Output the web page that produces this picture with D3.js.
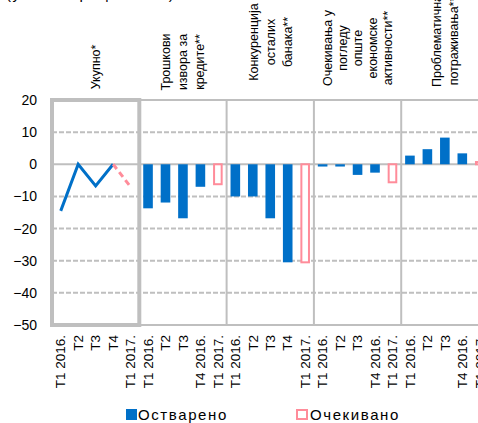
<!DOCTYPE html>
<html><head><meta charset="utf-8">
<script src="https://cdn.jsdelivr.net/npm/d3@7"></script>
<style>
html,body{margin:0;padding:0;background:#fff;}
svg{display:block;font-family:"Liberation Sans",Arial,sans-serif;}
</style></head>
<body>
<script>
// ---- data ----
const groupNames = [
  ["Укупно*"],
  ["Трошкови", "извора за", "кредите**"],
  ["Конкуренција", "осталих", "банака**"],
  ["Очекивања у", "погледу", "опште", "економске", "активности**"],
  ["Проблематична", "потраживања**"]
];
const periodLabels = [
  ["T1 2016.", "T2", "T3", "T4", "T1 2017."],
  ["T1 2016.", "T2", "T3", "T4 2016.", "T1 2017."],
  ["T1 2016.", "T2", "T3", "T4", "T1 2017."],
  ["T1 2016.", "T2", "T3", "T4 2016.", "T1 2017."],
  ["T1 2016.", "T2", "T3", "T4 2016.", "T1 2017."]
];
// Укупно* (line)
const totalRealized = [-14.5, 0, -6.7, 0];
const totalExpected = [0, -7];   // from T4 2016. to T1 2017.
// Bars for the other factors (T1..T4 2016. realized, T1 2017. expected)
const realized = [
  [-13.7, -11.9, -16.8, -7.0],
  [-10.0, -10.0, -16.8, -30.5],
  [-0.7, -0.7, -3.3, -2.6],
  [2.7, 4.7, 8.3, 3.4]
];
const expected = [-6.2, -30.5, -5.6, 0.7];
const yTicks = [20, 10, 0, -10, -20, -30, -40, -50];
const legendLabels = ["Остварено", "Очекивано"];

// ---- layout ----
const W = 478, H = 423;
const x0 = 52, groupW = 87.3, nG = groupNames.length;
const x1 = x0 + groupW * nG;
const plotTop = 100, plotBottom = 325;
const blue = "#0070C8", pink = "#FF8C9A", grid = "#BFBFBF";

const svg = d3.select("body").append("svg").attr("width", W).attr("height", H);

const slots = d3.range(nG * 5);
const x = d3.scaleBand().domain(slots).range([x0, x1]).paddingInner(0.45).paddingOuter(0.225);
const xc = i => x(i) + x.bandwidth() / 2;
const y = d3.scaleLinear().domain([-50, 20]).range([plotBottom, plotTop]);

// title (cut off at the top)
svg.append("text").attr("x", 6).attr("y", -1).attr("font-size", 15).attr("fill", "#000")
  .attr("letter-spacing", 1.5)
  .text("(у нето процентима)");

// grid lines
svg.append("g").selectAll("line").data(yTicks).join("line")
  .attr("x1", x0).attr("x2", x1)
  .attr("y1", d => y(d)).attr("y2", d => y(d))
  .attr("stroke", grid).attr("stroke-width", 2)
  .attr("stroke-dasharray", d => (d === 0 || d === 20 || d === -50) ? null : "5,2");

// group separators
svg.append("g").selectAll("line").data(d3.range(1, nG + 1)).join("line")
  .attr("x1", g => x0 + g * groupW).attr("x2", g => x0 + g * groupW)
  .attr("y1", plotTop).attr("y2", plotBottom)
  .attr("stroke", grid).attr("stroke-width", 2);

// y axis labels
const yAxis = svg.append("g").attr("transform", `translate(41,0)`)
  .call(d3.axisLeft(y).tickValues(yTicks).tickSize(0).tickPadding(4).tickFormat(d3.format("d")));
yAxis.select(".domain").remove();
yAxis.selectAll("text").attr("font-size", 14).attr("fill", "#000")
  .attr("font-family", "Liberation Sans, Arial, sans-serif");

// x axis labels (rotated)
const flatLabels = periodLabels.flat();
const xAxis = svg.append("g").attr("transform", `translate(0,${plotBottom})`)
  .call(d3.axisBottom(x).tickSize(0).tickFormat(i => flatLabels[i]));
xAxis.select(".domain").remove();
xAxis.selectAll("text")
  .attr("transform", "rotate(-90)")
  .attr("x", -10).attr("y", 0).attr("dy", "0.35em")
  .attr("text-anchor", "end")
  .attr("font-size", 13.5).attr("fill", "#000")
  .attr("font-family", "Liberation Sans, Arial, sans-serif");

// bars: realized
realized.forEach((vals, gi) => {
  const g = gi + 1;
  svg.append("g").selectAll("rect").data(vals).join("rect")
    .attr("x", (d, k) => x(g * 5 + k))
    .attr("width", x.bandwidth())
    .attr("y", d => y(Math.max(0, d)))
    .attr("height", d => Math.abs(y(d) - y(0)))
    .attr("fill", blue);
});
// bars: expected
svg.append("g").selectAll("rect").data(expected).join("rect")
  .attr("x", (d, gi) => x((gi + 1) * 5 + 4) + 1)
  .attr("width", x.bandwidth() - 2)
  .attr("y", d => y(Math.max(0, d)))
  .attr("height", d => Math.abs(y(d) - y(0)))
  .attr("fill", "#fff").attr("stroke", pink).attr("stroke-width", 2);

// group 1 box
svg.append("rect").attr("x", x0).attr("y", plotTop).attr("width", groupW).attr("height", plotBottom - plotTop)
  .attr("fill", "none").attr("stroke", grid).attr("stroke-width", 4);

// total line
const line = d3.line().x(d => xc(d[0])).y(d => y(d[1]));
svg.append("path").datum(totalRealized.map((v, i) => [i, v]))
  .attr("d", line).attr("fill", "none").attr("stroke", blue).attr("stroke-width", 3);
svg.append("path").datum(totalExpected.map((v, i) => [3 + i, v]))
  .attr("d", line).attr("fill", "none").attr("stroke", pink).attr("stroke-width", 3)
  .attr("stroke-dasharray", "6,4");

// group header labels (rotated, multi-line)
const headerCenters = [67, 62, 42, 48, 41];
groupNames.forEach((lines, gi) => {
  const sp = lines.length > 3 ? 15 : 17;
  const cx = x0 + gi * groupW + groupW / 2;
  const n = lines.length;
  lines.forEach((t, li) => {
    const lx = cx + (li - (n - 1) / 2) * sp;
    svg.append("text")
      .attr("transform", `translate(${lx},${headerCenters[gi]}) rotate(-90)`)
      .attr("text-anchor", "middle").attr("dy", "0.35em")
      .attr("font-size", 12.5).attr("fill", "#000")
      .text(t);
  });
});

// legend
const lg = svg.append("g");
lg.append("rect").attr("x", 126).attr("y", 409).attr("width", 11).attr("height", 11).attr("fill", blue);
lg.append("text").attr("x", 138).attr("y", 420).attr("font-size", 15).attr("letter-spacing", 1.6)
  .attr("fill", "#000").text(legendLabels[0]);
lg.append("rect").attr("x", 297).attr("y", 410).attr("width", 10).attr("height", 9)
  .attr("fill", "#fff").attr("stroke", pink).attr("stroke-width", 2);
lg.append("text").attr("x", 310).attr("y", 420).attr("font-size", 15).attr("letter-spacing", 1.6)
  .attr("fill", "#000").text(legendLabels[1]);
</script>
</body></html>
